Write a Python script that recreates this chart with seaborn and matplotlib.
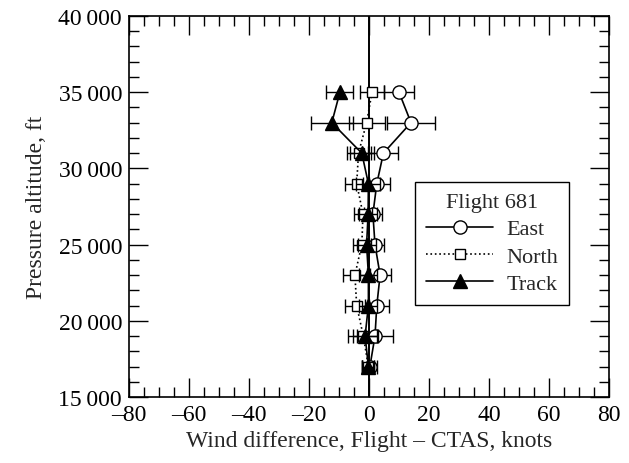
import numpy as np
import pandas as pd
import seaborn as sns
import matplotlib
matplotlib.use("Agg")
import matplotlib.pyplot as plt
from matplotlib.ticker import MultipleLocator, FuncFormatter

# Pressure altitude of each comparison level, ft
altitude = [35000, 33000, 31000, 29000, 27000, 25000, 23000, 21000, 19000, 17000]

# Mean wind difference (Flight - CTAS), knots, with one-sigma spread
east = [10.0, 14.0, 4.8, 2.6, 1.3, 2.0, 3.7, 2.6, 2.0, 0.3]
east_err = [5.0, 8.0, 5.0, 4.5, 3.0, 3.0, 3.5, 4.0, 6.0, 2.5]
north = [1.0, -0.8, -3.5, -4.1, -2.0, -2.4, -4.7, -4.1, -1.9, -0.2]
north_err = [4.0, 6.0, 4.0, 4.0, 3.0, 3.0, 4.0, 4.0, 5.0, 2.0]
track = [-9.7, -12.4, -2.4, -0.2, -0.3, -0.8, -0.2, -0.2, -1.3, -0.2]
track_err = [4.5, 7.0, 4.0, 4.0, 3.0, 3.0, 3.0, 3.0, 4.0, 2.0]

sns.set_style("ticks")
plt.rcParams["font.family"] = ["Liberation Serif", "DejaVu Serif"]
plt.rcParams["font.size"] = 17

fig = plt.figure(figsize=(6.29, 4.64), dpi=100)
ax = fig.add_axes([129 / 629, 1 - 398 / 464, 480 / 629, 381 / 464])

# zero-difference reference line
ax.axvline(0, color="black", lw=1.4, zorder=1)

series = [
    ("East", east, east_err, "o", "-", "white", 9.5),
    ("North", north, north_err, "s", ":", "white", 7.5),
    ("Track", track, track_err, "^", "-", "black", 9.5),
]

for i, (name, vals, err, mk, ls, fc, ms) in enumerate(series):
    df = pd.DataFrame({"wind": vals, "alt": altitude})
    ax.errorbar(df["wind"], df["alt"], xerr=err, fmt="none", ecolor="black",
                elinewidth=1.0, capsize=5, capthick=1.0, zorder=2 + i)
    sns.lineplot(data=df, x="wind", y="alt", sort=False, estimator=None, ax=ax,
                 color="black", linestyle=ls, lw=1.2, marker=mk, markersize=ms,
                 markerfacecolor=fc, markeredgecolor="black", markeredgewidth=1.0,
                 label=name, zorder=3 + i)

ax.set_xlim(-80, 80)
ax.set_ylim(15000, 40000)
ax.xaxis.set_major_locator(MultipleLocator(20))
ax.xaxis.set_minor_locator(MultipleLocator(5))
ax.yaxis.set_major_locator(MultipleLocator(5000))
ax.yaxis.set_minor_locator(MultipleLocator(1000))
ax.xaxis.set_major_formatter(FuncFormatter(lambda v, p: f"{int(v)}".replace("-", "\u2013")))
ax.yaxis.set_major_formatter(FuncFormatter(lambda v, p: f"{int(v):,}".replace(",", "\u2009")))
ax.tick_params(which="both", direction="in", top=True, right=True, colors="black")
ax.tick_params(which="major", length=14, width=1.0, pad=5)
ax.tick_params(which="minor", length=7.5, width=1.0)
for s in ax.spines.values():
    s.set_linewidth(1.2)
    s.set_color("black")

ax.set_xlabel("Wind difference, Flight \u2013 CTAS, knots", labelpad=4)
ax.set_ylabel("Pressure altitude, ft", labelpad=8)

leg = ax.legend(title="Flight 681", loc="upper left", bbox_to_anchor=(0.596, 0.564),
                frameon=True, fancybox=False, edgecolor="black", fontsize=16,
                title_fontsize=16, handlelength=3.0, borderpad=0.5, labelspacing=0.3,
                handletextpad=0.6, borderaxespad=0)
leg.get_frame().set_linewidth(1.0)
leg.get_frame().set_alpha(1)

fig.savefig("out.png", dpi=100)
